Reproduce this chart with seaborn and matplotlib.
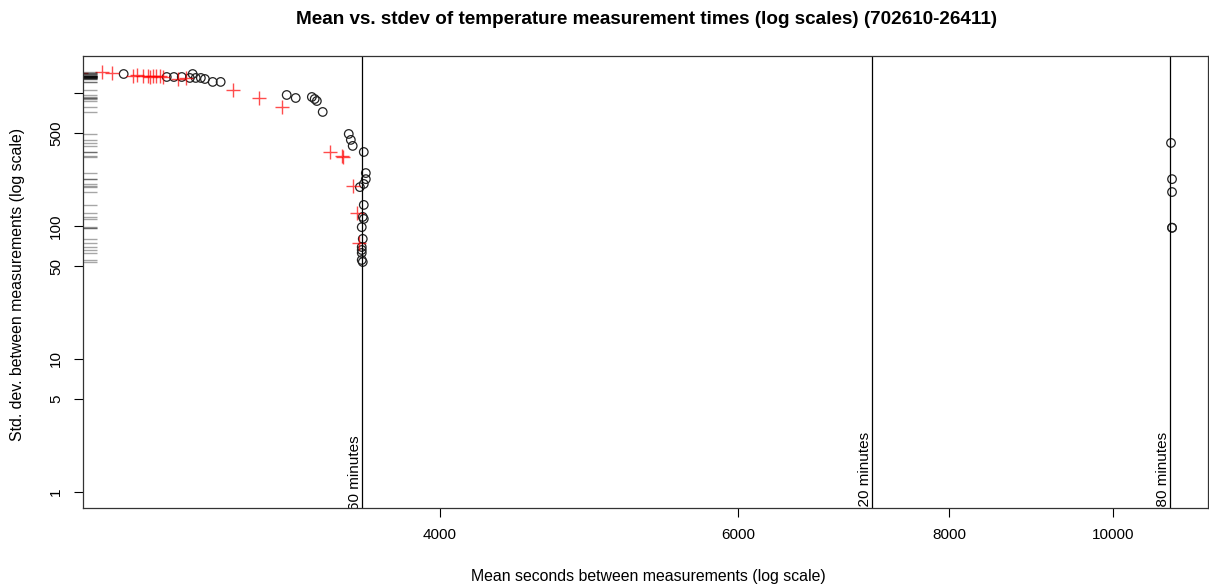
import matplotlib
matplotlib.use("Agg")
import matplotlib.pyplot as plt
import matplotlib.ticker as mticker
import seaborn as sns
import pandas as pd

# ---- data ----
circle_mean = [2602, 2759, 2786, 2816, 2847, 2858, 2870, 2890, 2906, 2937, 2969,
               3248, 3288, 3361, 3374, 3384, 3411,
               3534, 3544, 3553, 3607,
               3617, 3617, 3607, 3588,
               3607, 3602, 3607, 3597, 3602, 3597, 3597, 3597, 3597, 3602,
               10814, 10829, 10829, 10829, 10829]
circle_sd = [1389, 1319, 1319, 1319, 1297, 1389, 1297, 1297, 1274, 1211, 1211,
             966, 917, 933, 901, 870, 720,
             492, 444, 400, 360,
             250, 225, 207, 196,
             144, 117, 113, 98, 80, 69.5, 66, 62.7, 55.5, 53.6,
             421, 225, 180, 97, 97]

cross_mean = [2455, 2525, 2562, 2634, 2649, 2670, 2688, 2696, 2707, 2718, 2733, 2744,
              2800, 2831, 3018, 3127, 3226, 3444, 3501, 3507, 3553, 3573, 3583]
cross_sd = [1420, 1439, 1413, 1342, 1365, 1342, 1342, 1319, 1342, 1342, 1342, 1319,
            1274, 1297, 1050, 917, 785, 360, 336, 333, 200, 125, 74.5]

ref_seconds = [3600, 7200, 10800]
ref_labels = ["60 minutes", "120 minutes", "180 minutes"]

x_ticks = [4000, 6000, 8000, 10000]
y_ticks = [1, 5, 10, 50, 100, 500, 1000]
y_tick_labels = ["1", "5", "10", "50", "100", "500", ""]

title = "Mean vs. stdev of temperature measurement times (log scales) (702610-26411)"
xlabel = "Mean seconds between measurements (log scale)"
ylabel = "Std. dev. between measurements (log scale)"

# ---- style ----
sns.set_style("white")
plt.rcParams["font.family"] = ["Liberation Sans", "DejaVu Sans"]
plt.rcParams["text.color"] = "black"
plt.rcParams["axes.labelcolor"] = "black"
plt.rcParams["xtick.color"] = "black"
plt.rcParams["ytick.color"] = "black"

circles = pd.DataFrame({"mean": circle_mean, "sd": circle_sd})
crosses = pd.DataFrame({"mean": cross_mean, "sd": cross_sd})

W, H = 1209, 586
fig = plt.figure(figsize=(W / 100, H / 100), dpi=100)
ax = fig.add_axes([83 / W, 1 - 508 / H, (1208 - 83) / W, (508 - 56) / H])
ax.set_xscale("log")
ax.set_yscale("log")

sns.scatterplot(data=circles, x="mean", y="sd", ax=ax, marker="o", s=38,
                facecolor="none", edgecolor="#222222", linewidth=0.9, legend=False)
sns.scatterplot(data=crosses, x="mean", y="sd", ax=ax, marker="+", s=90,
                color="red", alpha=0.7, linewidth=1.0, legend=False)
sns.rugplot(y=circle_sd + cross_sd, ax=ax, height=0.0125, color="black",
            alpha=0.35, linewidth=1.0)

for xs, lab in zip(ref_seconds, ref_labels):
    ax.axvline(xs, color="black", linewidth=0.9)
    ax.text(xs, 1.39, lab, rotation=90, ha="right", va="center",
            fontsize=11, clip_on=True, color="black")

ax.set_xlim(2462, 11372)
ax.set_ylim(0.758, 1897)

ax.xaxis.set_major_locator(mticker.FixedLocator(x_ticks))
ax.xaxis.set_major_formatter(mticker.FixedFormatter([str(v) for v in x_ticks]))
ax.xaxis.set_minor_locator(mticker.NullLocator())
ax.yaxis.set_major_locator(mticker.FixedLocator(y_ticks))
ax.yaxis.set_major_formatter(mticker.FixedFormatter(y_tick_labels))
ax.yaxis.set_minor_locator(mticker.NullLocator())

ax.tick_params(axis="both", which="major", direction="out", length=6.5,
               width=0.8, color="black", labelcolor="black", labelsize=11,
               pad=8, bottom=True, left=True)
for lab in ax.get_yticklabels():
    lab.set_rotation(90)
    lab.set_va("center")
for sp in ax.spines.values():
    sp.set_color("#333333")
    sp.set_linewidth(0.9)

ax.set_xlabel("")
ax.set_ylabel("")
fig.text(647 / W, 1 - 20 / H, title, ha="center", va="center",
         fontsize=13.6, fontweight="bold", color="black")
fig.text(648 / W, 1 - 577 / H, xlabel, ha="center", va="center", fontsize=11.4,
         color="black")
fig.text(18 / W, 1 - 284 / H, ylabel, ha="center", va="center", rotation=90,
         fontsize=11.4, color="black")

fig.savefig("out.png", dpi=100)
